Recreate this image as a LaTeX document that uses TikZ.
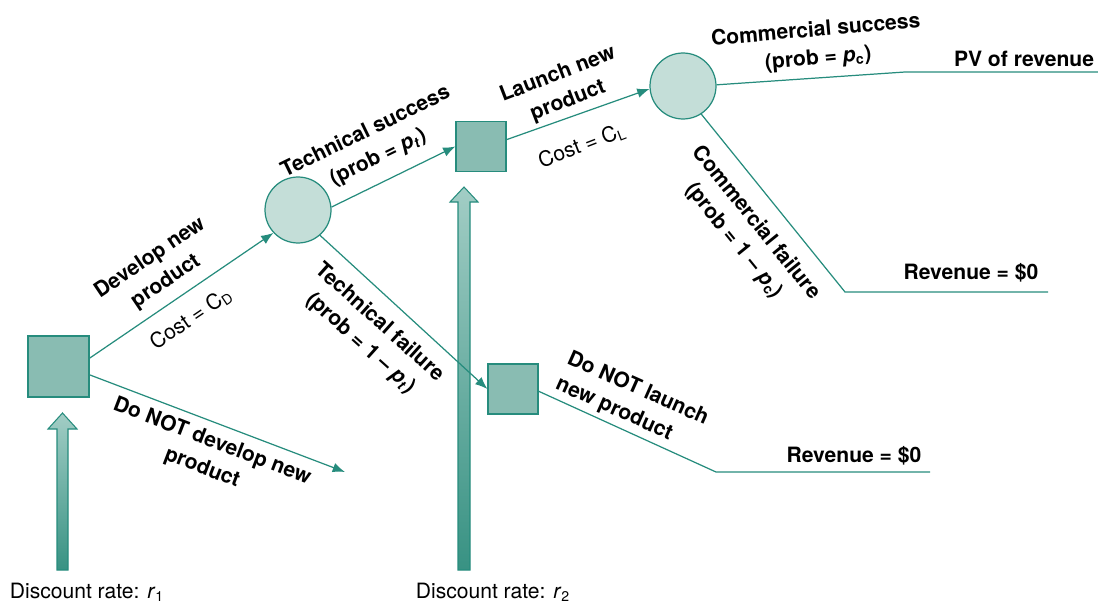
\documentclass[tikz,border=0pt]{standalone}
\usepackage{fontspec}
\setmainfont{TeX Gyre Heros}
\usetikzlibrary{arrows.meta}
\definecolor{tealline}{RGB}{38,140,125}
\definecolor{boxfill}{RGB}{137,188,178}
\definecolor{ballfill}{RGB}{196,222,216}
\definecolor{arrowtop}{RGB}{162,205,197}
\definecolor{arrowbot}{RGB}{56,146,131}

\begin{document}
\begin{tikzpicture}[x=0.02cm, y=-0.02cm, >={Latex[length=7pt,width=5.5pt]},
	decision/.style={draw=tealline, fill=boxfill, line width=0.7pt, inner sep=0pt, minimum size=#1},
	chance/.style={circle, draw=tealline, fill=ballfill, line width=0.7pt, inner sep=0pt, minimum size=1.32cm},
	branch/.style={draw=tealline, line width=0.7pt},
	lbl/.style={font=\fontsize{12}{16}\selectfont\bfseries, align=center, inner sep=0pt},
	note/.style={font=\fontsize{12}{16}\selectfont, inner sep=0pt}]

				\useasboundingbox (0,0) rectangle (1098,608);

				% discount rate arrows
				\shade[top color=arrowtop, bottom color=arrowbot, draw=tealline, line width=0.6pt]
					(57,570) -- (57,429) -- (48,429) -- (62.5,413) -- (77,429) -- (68,429) -- (68,570) -- cycle;
				\shade[top color=arrowtop, bottom color=arrowbot, draw=tealline, line width=0.6pt]
					(458,570) -- (458,202) -- (450,202) -- (464,187) -- (478,202) -- (470,202) -- (470,570) -- cycle;

				\node[decision=1.22cm] (sqA) at (58.5,366.5) {};
				\node[decision=1.0cm] (sqB) at (481,146.5) {};
				\node[decision=1.0cm] (sqC) at (513,389) {};
				\node[chance] (cirA) at (298,210) {};
				\node[chance] (cirB) at (683,86) {};

				\coordinate (endA) at (345,472);
				\coordinate (kinkA) at (716,472);
				\coordinate (endB) at (930,472);
				\coordinate (kinkB) at (905,72);
				\coordinate (endC) at (1098,72);
				\coordinate (kinkC) at (845,292);
				\coordinate (endD) at (1048,292);

				\draw[branch,->] (sqA.15) -- (cirA.223);
				\draw[branch,->] (sqA.-15) -- (endA);
				\draw[branch,->] (cirA.5) -- (sqB.west);
				\draw[branch,->] (cirA.-49) -- (sqC.west);
				\draw[branch] (sqC.-5) -- (kinkA) -- (endB);
				\draw[branch,->] (sqB.15) -- (cirB.185);
				\draw[branch] (cirB.2) -- (kinkB) -- (endC);
				\draw[branch] (cirB.-57) -- (kinkC) -- (endD);

				\node[lbl, rotate=34] (dev) at (158,270) {Develop new\\product};
				\node[note, rotate=34] (costD) at (191,319) {Cost = C\textsubscript{D}};
				\node[lbl, rotate=-21] (nodev) at (207,455) {Do NOT develop new\\product};
				\node[lbl, rotate=26] (techS) at (372,145) {Technical success\\(prob = \textit{p}\textsubscript{\textit{t}})};
				\node[lbl, rotate=-42] (techF) at (370,333) {Technical failure\\(prob = 1 -- \textit{p}\textsubscript{\textit{t}})};
				\node[lbl, rotate=21] (launch) at (563,88) {Launch new\\product};
				\node[note, rotate=21] (costL) at (582,146) {Cost = C\textsubscript{L}};
				\node[lbl, rotate=-24, align=left] (nolaunch) at (632,402) {Do NOT launch\\new product};
				\node[lbl, rotate=5] (comS) at (817,45) {Commercial success\\(prob = \textit{p}\textsubscript{c})};
				\node[lbl, rotate=-51] (comF) at (745,232) {Commercial failure\\(prob = 1 -- \textit{p}\textsubscript{c})};
				\node[lbl] (pv) at (1024,59) {PV of revenue};
				\node[lbl] (revA) at (971,273) {Revenue = \$0};
				\node[lbl] (revB) at (854,456) {Revenue = \$0};
				\node[note] (rateA) at (87,592) {Discount rate: \textit{r}\textsubscript{1}};
				\node[note] (rateB) at (493,592) {Discount rate: \textit{r}\textsubscript{2}};

\end{tikzpicture}
\end{document}
